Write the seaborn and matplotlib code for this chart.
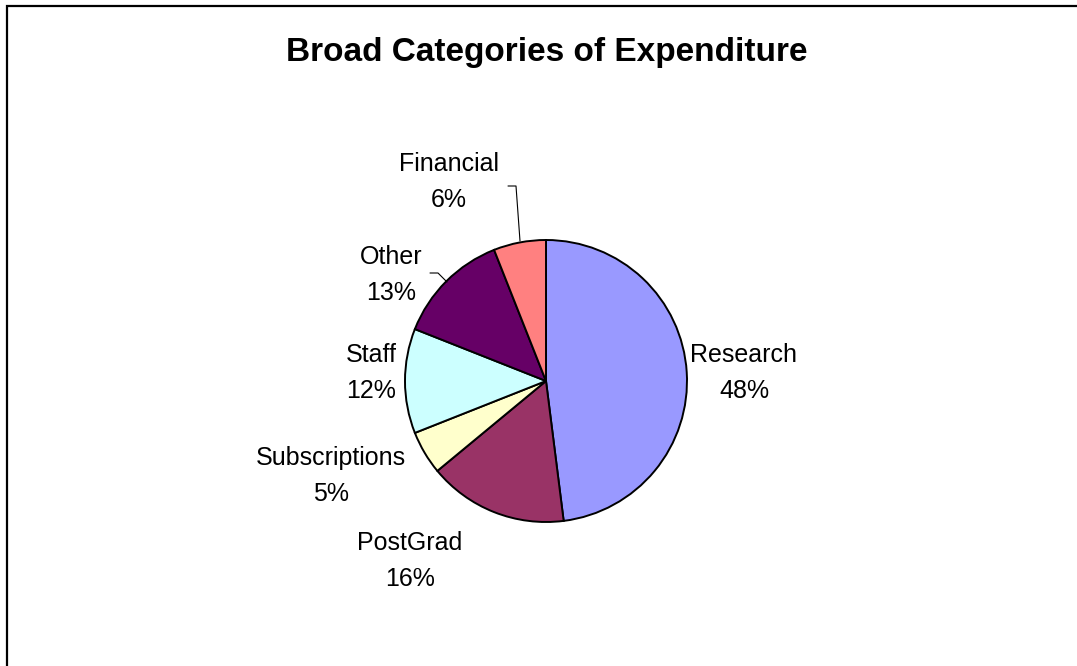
import matplotlib
matplotlib.use("Agg")
import matplotlib.pyplot as plt
from matplotlib.patches import Rectangle
import seaborn as sns

# Expenditure shares (percent)
categories = ["Research", "PostGrad", "Subscriptions", "Staff", "Other", "Financial"]
shares = [48, 16, 5, 12, 13, 6]
colors = ["#9999FF", "#993366", "#FFFFCC", "#CCFFFF", "#660066", "#FF8080"]
title = "Broad Categories of Expenditure"

sns.set_theme(style="white")
plt.rcParams["font.family"] = ["Liberation Sans", "DejaVu Sans"]

W, H, DPI = 1077, 666, 100
fig = plt.figure(figsize=(W / DPI, H / DPI), dpi=DPI)
fig.patch.set_facecolor("white")

# pie geometry in pixels
cx, cy, r = 546, 381, 141

ax = fig.add_axes([0, 0, 1, 1])
ax.pie(shares, colors=colors, startangle=90, counterclock=False, radius=1.0,
       wedgeprops=dict(edgecolor="black", linewidth=1.4))
ax.set_xlim(-cx / r, (W - cx) / r)
ax.set_ylim(-(H - cy) / r, cy / r)
ax.set_aspect("auto")
ax.axis("off")


def px(x, y):
    return (x - cx) / r, (cy - y) / r


# label centres (pixels)
label_pos = {
    "Research": (744, 373),
    "PostGrad": (410, 561),
    "Subscriptions": (331, 476),
    "Staff": (371, 373),
    "Other": (391, 275),
    "Financial": (449, 182),
}
for cat, val in zip(categories, shares):
    x, y = px(*label_pos[cat])
    ax.text(x, y, f"{cat}\n{val}%", ha="center", va="center",
            fontsize=18, linespacing=1.6, color="black")

# leader lines
for pts in ([(508, 186), (516, 186), (520, 241)],
            [(430, 273), (438, 273), (447, 282)]):
    xs, ys = zip(*[px(*p) for p in pts])
    ax.plot(xs, ys, color="black", linewidth=0.8)

fig.text(547 / W, 1 - 53 / H, title, ha="center", va="center",
         fontsize=24, fontweight="bold", color="black")

# chart frame
fig.patches.append(Rectangle((7 / W, -0.05), 1.1, 1 - 6 / H + 0.05,
                             transform=fig.transFigure, fill=False,
                             edgecolor="black", linewidth=1.6))

fig.savefig("out.png", dpi=DPI)
